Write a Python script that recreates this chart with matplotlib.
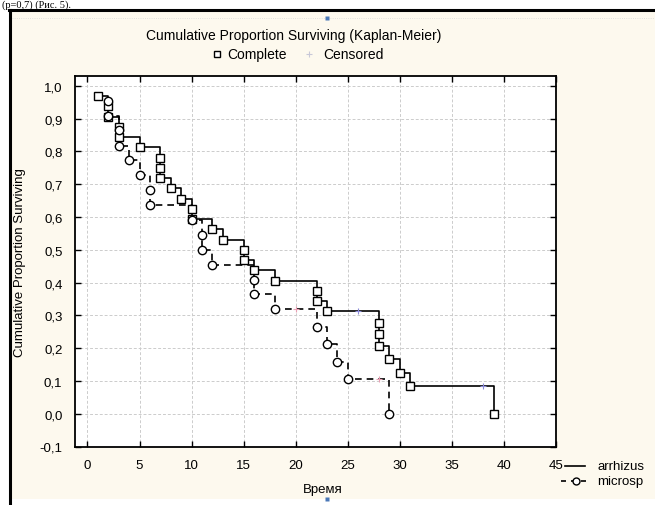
import matplotlib.pyplot as plt
from matplotlib.lines import Line2D
from matplotlib.patches import Rectangle
import numpy as np

plt.rcParams['font.family'] = ['Liberation Sans', 'DejaVu Sans']

# arrhizus: event times and Kaplan-Meier survival after each event
arr_time = [1, 2, 2, 3, 3, 5, 7, 7, 7, 8, 9, 10, 10, 12, 13, 15, 15, 16,
            18, 22, 22, 23, 28, 28, 28, 29, 30, 31, 39]
arr_surv = [0.969, 0.938, 0.906, 0.875, 0.844, 0.813, 0.781, 0.750, 0.719,
            0.688, 0.656, 0.625, 0.594, 0.563, 0.531, 0.500, 0.469, 0.438,
            0.406, 0.375, 0.344, 0.313, 0.278, 0.243, 0.208, 0.167, 0.125,
            0.083, 0.0]
arr_cens_time = [26, 38]
arr_cens_surv = [0.313, 0.083]

# microsp
mic_time = [2, 2, 3, 3, 4, 5, 6, 6, 10, 11, 11, 12, 16, 16, 18, 22, 23, 24, 25, 29]
mic_surv = [0.955, 0.909, 0.864, 0.818, 0.773, 0.727, 0.682, 0.636, 0.591,
            0.545, 0.500, 0.455, 0.409, 0.364, 0.318, 0.265, 0.212, 0.159,
            0.106, 0.0]
mic_cens_time = [20, 28]
mic_cens_surv = [0.318, 0.106]

x_ticks = list(range(0, 46, 5))
y_ticks = [round(v, 1) for v in np.arange(-0.1, 1.01, 0.1)]

W, H = 655, 506
fig = plt.figure(figsize=(W / 100, H / 100), dpi=100)
fig.patch.set_facecolor('white')

def fx(px):
    return px / W

def fy(py):
    return 1 - py / H

# cream window background + frame
fig.add_artist(Rectangle((fx(10), fy(500)), 1 - fx(10), fy(11) - fy(500),
                         transform=fig.transFigure, facecolor='#fdf9ee',
                         edgecolor='none', zorder=0))
fig.add_artist(Line2D([fx(10), fx(10)], [0, fy(10.5)], color='black', lw=2.2,
                      transform=fig.transFigure))
fig.add_artist(Line2D([fx(9), 1], [fy(10.5), fy(10.5)], color='black', lw=2.2,
                      transform=fig.transFigure))
fig.add_artist(Line2D([fx(12), 1], [fy(19), fy(19)], color='#d8d8d8', lw=0.6,
                      ls=':', transform=fig.transFigure))
for py in (19, 500):
    fig.add_artist(Line2D([fx(327)], [fy(py)], marker='s', ms=2.5, color='#4a78b8',
                          mec='none', transform=fig.transFigure))

fig.text(fx(2), fy(8), '(p=0,7) (Рис. 5).', family='Liberation Serif',
         fontsize=7.5, va='baseline', ha='left')

ax = fig.add_axes([fx(75), fy(447.5), fx(556) - fx(75), fy(77) - fy(447.5)])
ax.set_facecolor('white')

ax.step(arr_time, arr_surv, where='post', color='black', lw=1.2, zorder=3)
ax.plot(arr_time, arr_surv, 's', mfc='white', mec='black', ms=6, mew=1.0, zorder=4)
ax.plot(arr_cens_time, arr_cens_surv, '+', color='#8c8cd8', ms=5, mew=0.8, zorder=5)

ax.step(mic_time, mic_surv, where='post', color='black', lw=1.2,
        ls=(0, (4, 3)), zorder=3)
ax.plot(mic_time, mic_surv, 'o', mfc='white', mec='black', ms=6, mew=1.0, zorder=4)
ax.plot(mic_cens_time, mic_cens_surv, '+', color='#e8a0b4', ms=5, mew=0.8, zorder=5)

ax.set_xlim(-1.2, 45)
ax.set_ylim(-0.1, 1.03)
ax.set_xticks(x_ticks)
ax.set_yticks(y_ticks)
ax.set_yticklabels([f'{v:.1f}'.replace('.', ',') for v in y_ticks])
ax.tick_params(direction='in', top=True, right=True, length=4, width=1,
               labelsize=9.5, pad=9)
ax.grid(True, ls=(0, (3, 2)), color='#cccccc', lw=0.7)
for s in ax.spines.values():
    s.set_linewidth(1.3)

ax.set_ylabel('Cumulative Proportion Surviving', fontsize=9.5, labelpad=10)
fig.text(fx(323), fy(490), 'Время', fontsize=9.5, ha='center', va='center')

# top legend
fig.text(fx(294), fy(36), 'Cumulative Proportion Surviving (Kaplan-Meier)',
         fontsize=10, ha='center', va='center')
fig.add_artist(Line2D([fx(217)], [fy(55)], marker='s', ms=5, mfc='white',
                      mec='black', mew=1, transform=fig.transFigure))
fig.text(fx(227), fy(55), 'Complete', fontsize=10, va='center')
fig.add_artist(Line2D([fx(309)], [fy(55)], marker='+', ms=5, color='#c8c8d8',
                      mew=0.8, transform=fig.transFigure))
fig.text(fx(323), fy(55), 'Censored', fontsize=10, va='center')

# bottom-right legend
fig.add_artist(Line2D([fx(565), fx(585)], [fy(467), fy(467)], color='black',
                      lw=1.2, transform=fig.transFigure))
fig.text(fx(597), fy(467), 'arrhizus', fontsize=9.5, va='center')
fig.add_artist(Line2D([fx(561), fx(591)], [fy(482), fy(482)], color='black',
                      lw=1.2, ls=(0, (3, 3)), transform=fig.transFigure))
fig.add_artist(Line2D([fx(576)], [fy(482)], marker='o', ms=5, mfc='white',
                      mec='black', mew=1, transform=fig.transFigure))
fig.text(fx(597), fy(482), 'microsp', fontsize=9.5, va='center')

fig.savefig('out.png', dpi=100)
